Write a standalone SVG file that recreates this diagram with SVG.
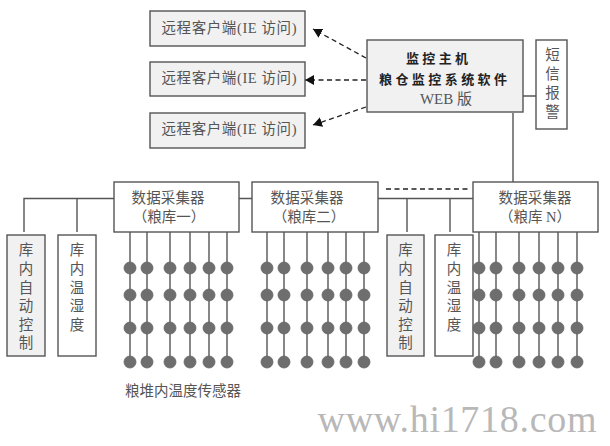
<svg xmlns="http://www.w3.org/2000/svg" width="610" height="446" viewBox="0 0 610 446">
<style>
text{font-family:"Liberation Serif","Noto Sans CJK SC",serif;font-size:14.5px;fill:#555;text-anchor:middle;dominant-baseline:central;transform:translateY(-0.5px)}
.box{fill:#fff;stroke:#555;stroke-width:1.4}
.grey{fill:#f1f1f1}
.line{fill:none;stroke:#555;stroke-width:1.4}
.dash{fill:none;stroke:#222;stroke-width:1.3;stroke-dasharray:5 3.5}
.s circle{fill:#6e6e6e;stroke:#666;stroke-width:.8}
.host{fill:#222;font-weight:700;font-size:13px}
.web{font-size:15px}
.mark{font-size:38px;fill:#b8b8b8;dominant-baseline:alphabetic;transform:none}
</style>
<defs>
<marker id="a" markerUnits="userSpaceOnUse" markerWidth="10" markerHeight="10" refX="9" refY="5" orient="auto"><path d="M0 0L9 5L0 10Z" fill="#111"/></marker>
<g id="col" class="s"><path d="M0 232V362" stroke="#555" stroke-width="1.4"/><circle cx="0" cy="268" r="6"/><circle cx="0" cy="295" r="6"/><circle cx="0" cy="328" r="6"/><circle cx="0" cy="362" r="6"/></g>
</defs>
<rect width="610" height="446" fill="#fff"/>
<g id="connectors">
<path class="line" d="M523 96H536M513 113V182M114 198.500H24V232M77 198.500V232M239 198.500H252M378 198.500H473M407 198.500V232M450 198.500V232"/>
<path class="dash" d="M386 189H470"/>
<path class="dash" d="M366 58L313 29" marker-end="url(#a)"/>
<path class="dash" d="M366 80H305" marker-end="url(#a)"/>
<path class="dash" d="M366 107L313 125" marker-end="url(#a)"/>
</g>
<g id="remote1"><rect class="box grey" x="150" y="11" width="155" height="35"/><text x="229" y="28" textLength="135">远程客户端(IE 访问)</text></g>
<g id="remote2"><rect class="box grey" x="150" y="62" width="155" height="34"/><text x="229" y="78" textLength="135">远程客户端(IE 访问)</text></g>
<g id="remote3"><rect class="box grey" x="150" y="113" width="155" height="35"/><text x="229" y="129" textLength="135">远程客户端(IE 访问)</text></g>
<g id="host"><rect class="box grey" x="367" y="40" width="156" height="72"/>
<text class="host" x="437" y="59" textLength="62">监控主机</text>
<text class="host" x="443" y="80" textLength="128">粮仓监控系统软件</text>
<text class="web" x="446" y="99">WEB 版</text></g>
<g id="sms"><rect class="box" x="536" y="40" width="31" height="89"/><text><tspan x="552.500" y="55">短</tspan><tspan x="552.500" y="74">信</tspan><tspan x="552.500" y="93">报</tspan><tspan x="552.500" y="112">警</tspan></text></g>
<g id="collector1"><rect class="box" x="114" y="182" width="125" height="50"/><text x="168" y="198" textLength="73">数据采集器</text><text x="169" y="217">（粮库一）</text></g>
<g id="collector2"><rect class="box" x="252" y="182" width="126" height="50"/><text x="307" y="198" textLength="73">数据采集器</text><text x="309" y="217">（粮库二）</text></g>
<g id="collectorN"><rect class="box" x="473" y="182" width="125" height="50"/><text x="535" y="198" textLength="73">数据采集器</text><text x="535" y="217">（粮库 N）</text></g>
<g id="auto1"><rect class="box grey" x="7" y="235" width="38" height="121"/><text><tspan x="26" y="250">库</tspan><tspan x="26" y="269">内</tspan><tspan x="26" y="288">自</tspan><tspan x="26" y="306">动</tspan><tspan x="26" y="325">控</tspan><tspan x="26" y="343">制</tspan></text></g>
<g id="temp1"><rect class="box" x="58" y="235" width="38" height="121"/><text><tspan x="77" y="250">库</tspan><tspan x="77" y="269">内</tspan><tspan x="77" y="288">温</tspan><tspan x="77" y="306">湿</tspan><tspan x="77" y="325">度</tspan></text></g>
<g id="auto2"><rect class="box grey" x="387" y="235" width="37" height="121"/><text><tspan x="405.500" y="250">库</tspan><tspan x="405.500" y="269">内</tspan><tspan x="405.500" y="288">自</tspan><tspan x="405.500" y="306">动</tspan><tspan x="405.500" y="325">控</tspan><tspan x="405.500" y="343">制</tspan></text></g>
<g id="temp2"><rect class="box" x="435" y="235" width="38" height="121"/><text><tspan x="454" y="250">库</tspan><tspan x="454" y="269">内</tspan><tspan x="454" y="288">温</tspan><tspan x="454" y="306">湿</tspan><tspan x="454" y="325">度</tspan></text></g>
<g id="sensors">
<use href="#col" x="130"/><use href="#col" x="147"/><use href="#col" x="170"/><use href="#col" x="190"/><use href="#col" x="209"/><use href="#col" x="227"/>
<use href="#col" x="267"/><use href="#col" x="284"/><use href="#col" x="307"/><use href="#col" x="328"/><use href="#col" x="346"/><use href="#col" x="364"/>
<use href="#col" x="479"/><use href="#col" x="496"/><use href="#col" x="519"/><use href="#col" x="539"/><use href="#col" x="558"/><use href="#col" x="577"/>
</g>
<text x="183" y="391" textLength="116">粮堆内温度传感器</text>
<text class="mark" x="457" y="432" textLength="279">www.hi1718.com</text>
</svg>
